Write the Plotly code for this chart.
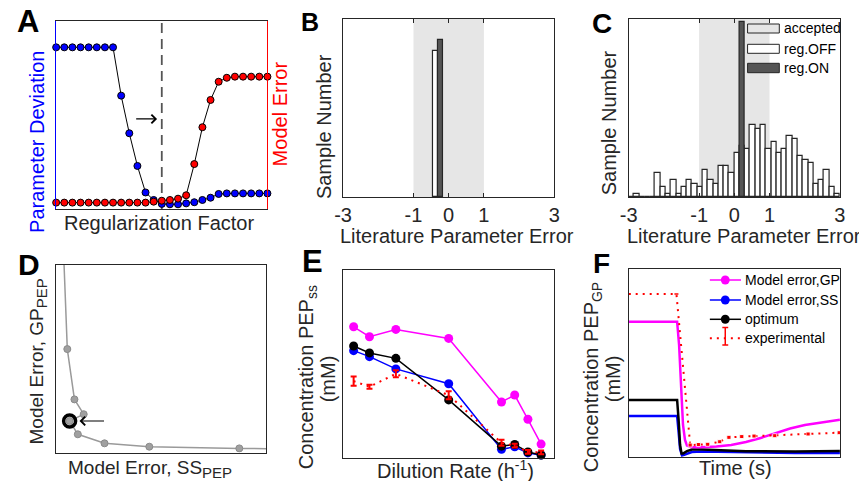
import numpy as np
import plotly.graph_objects as go

W, H = 859, 481
FONT = "Liberation Sans, Arial, sans-serif"
INK = "#262626"

# ---------------- data ----------------
# A: regularization scan
reg_step = list(range(1, 28))
param_dev = [0.86, 0.86, 0.86, 0.86, 0.86, 0.86, 0.86, 0.86, 0.603, 0.403, 0.229, 0.088,
             0.048, 0.027, 0.025, 0.025, 0.030, 0.036, 0.048, 0.060, 0.080, 0.083, 0.083,
             0.083, 0.083, 0.083, 0.083]
model_err = [0.034, 0.034, 0.034, 0.034, 0.034, 0.034, 0.034, 0.034, 0.034, 0.034, 0.034,
             0.034, 0.039, 0.044, 0.048, 0.055, 0.073, 0.239, 0.435, 0.580, 0.677, 0.698,
             0.704, 0.704, 0.704, 0.704, 0.704]
chosen_step = 14

# B / C: histograms of literature parameter error
bin_edges = np.linspace(-3, 3, 41)
bin_centers = (bin_edges[:-1] + bin_edges[1:]) / 2
bin_w = bin_edges[1] - bin_edges[0]

b_off_x, b_off_n = [-0.375], [82]
b_on_x, b_on_n = [-0.225], [88]

c_off_n = [0, 1, 0, 0, 0, 7, 3, 1, 5, 1, 3, 5, 4, 3, 8, 5, 4, 9, 9, 7,
           13, 15, 14, 21, 20, 21, 14, 16, 13, 14, 18, 17, 12, 11, 10, 4, 5, 8, 3, 1]
c_on_x, c_on_n = [0.225], [51]

# D: trade-off curve
d_ss = [0.033, 0.053, 0.087, 0.131, 0.064, 0.103, 0.230, 0.443, 0.871, 1.06]
d_gp = [1.133, 0.552, 0.284, 0.205, 0.169, 0.098, 0.050, 0.032, 0.023, 0.021]
d_opt = 4

# E: steady-state PEP vs dilution rate
dil = [0.04, 0.1, 0.2, 0.4, 0.6, 0.65, 0.7, 0.75]
e_gp = [0.698, 0.645, 0.684, 0.636, 0.298, 0.335, 0.206, 0.074]
e_ss = [0.571, 0.539, 0.474, 0.395, 0.046, 0.060, 0.027, 0.016]
e_opt = [0.596, 0.559, 0.530, 0.309, 0.063, 0.072, 0.032, 0.016]
e_exp = [0.409, 0.379, 0.448, 0.334, 0.081, 0.066, 0.032, 0.030]
e_exp_err = [0.025, 0.011, 0.019, 0.021, 0.016, 0.010, 0.010, 0.010]

# F: glucose pulse time course
f_gp_t = [0, 0.2293, 0.2386, 0.2479, 0.2572, 0.2665, 0.2758, 0.2944, 0.3223, 0.3688,
          0.4153, 0.4851, 0.5549, 0.6247, 0.6944, 0.7642, 0.8340, 0.9037, 1.0]
f_gp = [0.719, 0.719, 0.595, 0.355, 0.169, 0.089, 0.060, 0.052, 0.050, 0.052,
        0.054, 0.062, 0.078, 0.100, 0.126, 0.150, 0.169, 0.182, 0.197]
f_opt_t = [0, 0.2293, 0.2363, 0.2433, 0.2502, 0.2572, 0.2758, 0.2991, 0.3456, 0.4153,
           0.5549, 0.7874, 1.0]
f_opt = [0.302, 0.302, 0.196, 0.062, 0.017, 0.017, 0.030, 0.038, 0.038, 0.034,
         0.029, 0.028, 0.030]
f_ss_t = [0, 0.2293, 0.2363, 0.2433, 0.2526, 0.2665, 0.2991, 0.3456, 0.5549, 0.7874, 1.0]
f_ss = [0.217, 0.217, 0.132, 0.041, 0.006, 0.012, 0.025, 0.028, 0.023, 0.020, 0.020]
f_exp_t = [0, 0.2260, 0.2912, 0.3302, 0.3735, 0.4307, 0.4744, 0.5349, 0.5935, 0.6912,
           0.8493, 0.9967]
f_exp = [0.867, 0.867, 0.062, 0.065, 0.066, 0.080, 0.103, 0.107, 0.110, 0.112, 0.121, 0.128]
f_exp_err = [0, 0, 0.004, 0.004, 0.004, 0.004, 0.004, 0.004, 0.004, 0.004, 0.004, 0.004]
f_exp_msize = [0, 0, 4, 4, 4, 4, 4, 4, 4, 4, 4, 4]

MAG, BLU, BLK, RED = "#ff00ff", "#0000ff", "#000000", "#ff0000"


def px(x, y):
    return x / W, 1 - y / H


def dom_x(a, b):
    return [a / W, b / W]


def dom_y(top, bottom):
    return [1 - bottom / H, 1 - top / H]


fig = go.Figure()

# ---- A ----
fig.add_trace(go.Scatter(x=reg_step, y=param_dev, mode="lines+markers", xaxis="x", yaxis="y",
                         line=dict(color="black", width=1),
                         marker=dict(color=BLU, size=7, line=dict(color="black", width=1)),
                         cliponaxis=False, showlegend=False))
fig.add_trace(go.Scatter(x=reg_step, y=model_err, mode="lines+markers", xaxis="x", yaxis="y7",
                         line=dict(color="black", width=1),
                         marker=dict(color=RED, size=7, line=dict(color="black", width=1)),
                         cliponaxis=False, showlegend=False))

# ---- B ----
fig.add_trace(go.Bar(x=b_off_x, y=b_off_n, width=bin_w, xaxis="x2", yaxis="y2",
                     marker=dict(color="white", line=dict(color=INK, width=1.2)), showlegend=False))
fig.add_trace(go.Bar(x=b_on_x, y=b_on_n, width=bin_w, xaxis="x2", yaxis="y2",
                     marker=dict(color="#555555", line=dict(color=INK, width=1.2)), showlegend=False))

# ---- C ----
fig.add_trace(go.Bar(x=bin_centers, y=c_off_n, width=bin_w, xaxis="x3", yaxis="y3",
                     marker=dict(color="white", line=dict(color=INK, width=1.2)), showlegend=False))
fig.add_trace(go.Bar(x=c_on_x, y=c_on_n, width=bin_w, xaxis="x3", yaxis="y3",
                     marker=dict(color="#555555", line=dict(color=INK, width=1.2)), showlegend=False))

# ---- D ----
fig.add_trace(go.Scatter(x=d_ss, y=d_gp, mode="lines+markers", xaxis="x4", yaxis="y4",
                         line=dict(color="#9a9a9a", width=1.5),
                         marker=dict(color="#a0a0a0", size=7, line=dict(color="#8a8a8a", width=1)),
                         showlegend=False))
fig.add_trace(go.Scatter(x=[d_ss[d_opt]], y=[d_gp[d_opt]], mode="markers", xaxis="x4", yaxis="y4",
                         marker=dict(symbol="circle-open", size=12, color="black",
                                     line=dict(color="black", width=3.5)),
                         showlegend=False))

# ---- E ----
for ys, col in [(e_gp, MAG), (e_ss, BLU), (e_opt, BLK)]:
    fig.add_trace(go.Scatter(x=dil, y=ys, mode="lines+markers", xaxis="x5", yaxis="y5",
                             line=dict(color=col, width=1.5), marker=dict(color=col, size=9),
                             cliponaxis=False, showlegend=False))
fig.add_trace(go.Scatter(x=dil, y=e_exp, mode="lines", xaxis="x5", yaxis="y5",
                         line=dict(color=RED, width=2, dash="2px,5px"),
                         error_y=dict(type="data", array=e_exp_err, color=RED, thickness=2, width=3),
                         cliponaxis=False, showlegend=False))

# ---- F ----
for tt, ys, col in [(f_ss_t, f_ss, BLU), (f_opt_t, f_opt, BLK), (f_gp_t, f_gp, MAG)]:
    fig.add_trace(go.Scatter(x=tt, y=ys, mode="lines", xaxis="x6", yaxis="y6",
                             line=dict(color=col, width=2.5), showlegend=False))
fig.add_trace(go.Scatter(x=f_exp_t, y=f_exp, mode="lines+markers", xaxis="x6", yaxis="y6",
                         line=dict(color=RED, width=2, dash="2px,5px"),
                         marker=dict(color=RED, size=f_exp_msize, symbol="square"),
                         error_y=dict(type="data", array=f_exp_err, color=RED, thickness=1.5, width=2),
                         showlegend=False))

frame = dict(showgrid=False, zeroline=False, showline=True, mirror=True,
             linecolor=INK, linewidth=1, showticklabels=False, ticks="")
tickfont = dict(family=FONT, size=20, color=INK)
hist_x = dict(frame, range=[-3, 3], showticklabels=True, tickvals=[-3, -1, 0, 1, 3],
              ticktext=["-3", "-1", "0", "1", "3"], ticks="inside", ticklen=4,
              tickcolor=INK, mirror="ticks", tickfont=tickfont)

fig.update_layout(
    width=W, height=H, margin=dict(l=0, r=0, t=0, b=0),
    paper_bgcolor="white", plot_bgcolor="white", barmode="overlay", bargap=0,
    font=dict(family=FONT, color=INK),
    xaxis=dict(frame, domain=dom_x(48, 263), range=[1, 27], anchor="y"),
    yaxis=dict(frame, domain=dom_y(21, 209), range=[0, 1], anchor="x",
               mirror=False, linecolor=BLU),
    yaxis7=dict(frame, range=[0, 1], overlaying="y", side="right", anchor="x",
                mirror=False, linecolor=RED),
    xaxis2=dict(hist_x, domain=dom_x(340, 555), anchor="y2"),
    yaxis2=dict(frame, domain=dom_y(19, 197), range=[0, 100], anchor="x2"),
    xaxis3=dict(hist_x, domain=dom_x(630.7, 845.7), anchor="y3"),
    yaxis3=dict(frame, domain=dom_y(19, 197.3), range=[0, 52], anchor="x3"),
    xaxis4=dict(frame, domain=dom_x(48, 262), range=[0, 1], anchor="y4"),
    yaxis4=dict(frame, domain=dom_y(265, 452.7), range=[0, 1], anchor="x4"),
    xaxis5=dict(frame, domain=dom_x(340, 555), range=[0, 0.8], anchor="y5"),
    yaxis5=dict(frame, domain=dom_y(270, 458), range=[0, 1], anchor="x5"),
    xaxis6=dict(frame, domain=dom_x(630.7, 845.7), range=[0, 1], anchor="y6"),
    yaxis6=dict(frame, domain=dom_y(269, 456.7), range=[0, 1], anchor="x6"),
)

shapes = []
# chosen regularization factor
shapes.append(dict(type="line", xref="x", yref="y domain", x0=chosen_step, x1=chosen_step,
                   y0=0, y1=1, line=dict(color="#555555", width=1.8, dash="10px,6px"), layer="below"))
# accepted range bands
for xr, yr in [("x2", "y2 domain"), ("x3", "y3 domain")]:
    shapes.append(dict(type="rect", xref=xr, yref=yr, x0=-1, x1=1, y0=0, y1=1,
                       fillcolor="#e6e6e6", line=dict(width=0), layer="below"))

# legend of C
for (y0, y1), fill in [((24, 33), "#e6e6e6"), ((44.3, 53.3), "white"), ((63.3, 72.7), "#555555")]:
    x0p, y0p = px(751.7, y0)
    x1p, y1p = px(784, y1)
    shapes.append(dict(type="rect", xref="paper", yref="paper", x0=x0p, x1=x1p, y0=y1p, y1=y0p,
                       fillcolor=fill, line=dict(color=INK, width=1)))

# legend of F
leg_f = [(280, MAG, "solid"), (300, BLU, "solid"), (319.3, BLK, "solid"), (338.3, RED, "2px,5px")]
for yy, col, dash in leg_f:
    a = px(713.3, yy)
    b = px(745, yy)
    shapes.append(dict(type="line", xref="paper", yref="paper", x0=a[0], x1=b[0], y0=a[1], y1=b[1],
                       line=dict(color=col, width=2 if dash != "solid" else 1.5, dash=dash)))
    if dash == "solid":
        c0 = px(729 - 4.5, yy + 4.5)
        c1 = px(729 + 4.5, yy - 4.5)
        shapes.append(dict(type="circle", xref="paper", yref="paper", x0=c0[0], x1=c1[0],
                           y0=c0[1], y1=c1[1], fillcolor=col, line=dict(color=col, width=0)))
for seg in [((729, 327.5), (729, 345)), ((726, 327.5), (732, 327.5)), ((726, 345), (732, 345))]:
    a = px(*seg[0])
    b = px(*seg[1])
    shapes.append(dict(type="line", xref="paper", yref="paper", x0=a[0], x1=b[0], y0=a[1], y1=b[1],
                       line=dict(color=RED, width=1.5)))
fig.update_layout(shapes=shapes)

ann = []


def text(x, y, s, size=20, color=INK, angle=0, xanchor="center", bold=False):
    xp, yp = px(x, y)
    ann.append(dict(x=xp, y=yp, xref="paper", yref="paper", text=f"<b>{s}</b>" if bold else s,
                    showarrow=False, textangle=angle, xanchor=xanchor, yanchor="middle",
                    font=dict(family=FONT, size=size, color=color)))


PEP_SUB = '<sub><span style="font-size:15px">PEP</span></sub>'

# panel letters
for lx, ly, lab, sz in [(19, 21.5, "A", 31), (306.5, 21.5, "B", 25), (604, 23, "C", 28),
                        (20, 264, "D", 30), (309, 261.5, "E", 31), (603, 263, "F", 28)]:
    text(lx, ly, lab, size=sz, color="black", bold=True)

# axis titles
text(152.5, 223, "Regularization Factor")
text(28.4, 142, "Parameter Deviation", color=BLU, angle=-90)
text(275.7, 113.5, "Model Error", color=RED, angle=-90)
text(320.7, 127, "Sample Number", angle=-90)
text(456, 235.5, "Literature Parameter Error")
text(610.7, 123.3, "Sample Number", angle=-90)
text(747.7, 235.5, "Literature Parameter Error")
text(30, 361, "Model Error, GP" + PEP_SUB, size=19, angle=-90)
text(144, 469, "Model Error, SS" + PEP_SUB, size=19)
text(304, 377.5, "Concentration PEP<sub>ss</sub>", angle=-90)
text(325, 379, "(mM)", angle=-90)
text(454, 469, "Dilution Rate (h<sup>-1</sup>)")
text(594, 377.5, "Concentration PEP<sub>GP</sub>", angle=-90)
text(615, 379, "(mM)", angle=-90)
text(739.5, 468, "Time (s)")

# legend labels
for yy, s in [(28.5, "accepted"), (48.8, "reg.OFF"), (68, "reg.ON")]:
    text(786.5, yy, s, size=14, color="black", xanchor="left")
for yy, s in [(280, "Model error,GP"), (300, "Model error,SS"), (319.3, "optimum"),
              (338.3, "experimental")]:
    text(746.7, yy, s, size=14, color="black", xanchor="left")

# arrows
ann.append(dict(x=13.42, y=0.479, xref="x", yref="y", ax=-22.4, ay=0, text="", showarrow=True,
                arrowhead=4, arrowsize=1.4, arrowwidth=1.2, arrowcolor="black"))
ann.append(dict(x=0.111, y=d_gp[d_opt], xref="x4", yref="y4", ax=26, ay=0, text="",
                showarrow=True, arrowhead=4, arrowsize=1.4, arrowwidth=1.2, arrowcolor="black"))

fig.update_layout(annotations=ann)
fig.write_html("out.html")
